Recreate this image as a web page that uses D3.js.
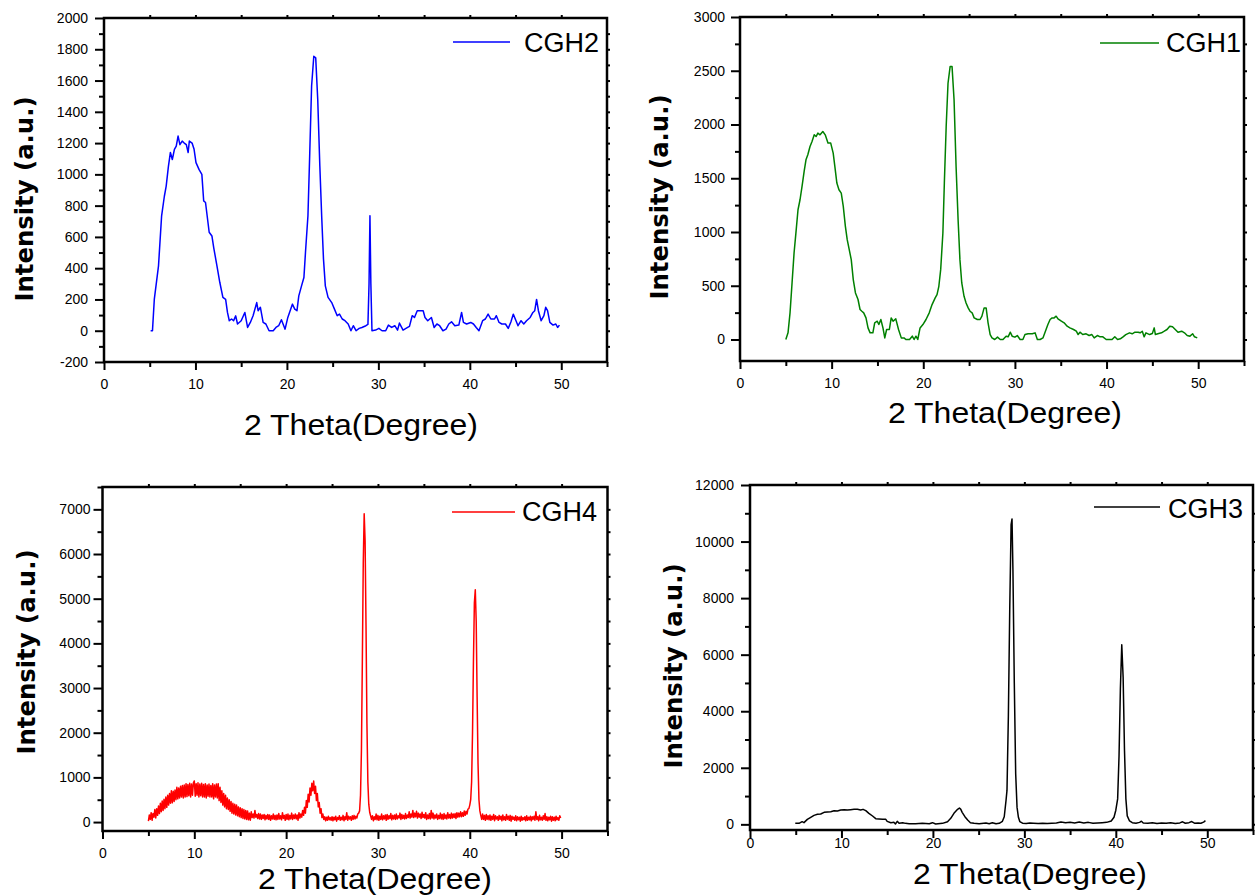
<!doctype html>
<html>
<head>
<meta charset="utf-8">
<script src="https://cdnjs.cloudflare.com/ajax/libs/d3/7.8.5/d3.min.js"></script>
<style>
body { margin: 0; background: #fff; }
svg { display: block; }
.tick text { font-family: "Liberation Sans", Arial, sans-serif; font-size: 14px; fill: #000; }
.tick line { stroke: #000; stroke-width: 2; }
</style>
</head>
<body>
<svg id="chart" width="1255" height="895"></svg>
<script>
// 2 theta (degree), intensity (a.u.)
var cgh2 = [
 [5.1,0],[5.3,0],[5.5,200],[5.96,415],[6.3,735],[6.6,860],[6.8,925],[7.04,1050],[7.26,1140],[7.47,1095],
 [7.7,1160],[7.9,1180],[8.1,1245],[8.3,1190],[8.55,1213],[8.77,1200],[9.0,1190],[9.2,1140],[9.33,1213],[9.63,1200],
 [9.85,1160],[10.06,1075],[10.4,1030],[10.7,1000],[10.9,830],[11.1,820],[11.5,630],[11.8,606],[12.0,530],[12.35,415],
 [12.66,310],[13.0,213],[13.3,200],[13.5,117],[13.7,64],[13.95,75],[14.17,64],[14.4,95],[14.6,43],[15.0,64],
 [15.4,117],[15.7,21],[16.0,53],[16.3,96],[16.7,180],[16.85,128],[17.1,150],[17.4,53],[17.7,43],[18.05,0],
 [18.5,0],[18.8,21],[19.1,32],[19.4,70],[19.8,10],[20.1,85],[20.6,170],[20.86,138],[21.1,128],[21.3,223],
 [21.6,287],[21.86,340],[22.03,500],[22.3,735],[22.5,1140],[22.7,1565],[22.94,1755],[23.15,1745],[23.37,1480],[23.6,1053],
 [23.8,735],[24.0,458],[24.2,287],[24.5,213],[24.9,180],[25.2,138],[25.5,96],[25.75,106],[26.05,75],[26.35,64],
 [26.7,43],[27.0,0],[27.26,32],[27.56,0],[27.9,15],[28.2,21],[28.64,32],[28.86,40],[28.98,300],[29.08,735],
 [29.18,300],[29.3,0],[29.7,4],[30.06,15],[30.4,0],[30.8,0],[31.1,36],[31.45,21],[31.8,32],[32.1,4],
 [32.3,49],[32.7,4],[33.2,21],[33.4,28],[33.7,96],[33.95,85],[34.25,128],[34.56,128],[34.9,128],[35.1,85],
 [35.4,64],[35.8,85],[36.1,21],[36.4,43],[36.7,32],[37.06,0],[37.4,10],[37.7,43],[38.0,57],[38.36,32],
 [38.8,36],[39.1,117],[39.3,53],[39.65,43],[40.1,53],[40.4,43],[40.7,21],[41.0,0],[41.4,64],[41.7,75],
 [42.0,106],[42.3,75],[42.7,75],[42.9,96],[43.2,53],[43.5,43],[43.9,43],[44.2,15],[44.5,57],[44.75,106],
 [45.05,64],[45.27,32],[45.6,64],[45.9,43],[46.2,64],[46.6,85],[46.9,117],[47.1,128],[47.3,200],[47.5,128],
 [47.8,64],[48.1,96],[48.3,150],[48.5,128],[48.75,53],[49.1,36],[49.4,43],[49.6,21],[49.8,36]
];

var cgh1 = [
 [5.0,0],[5.24,62],[5.46,248],[5.68,526],[5.9,805],[6.1,990],[6.33,1207],[6.55,1300],[6.77,1424],[7.0,1563],
 [7.2,1672],[7.4,1718],[7.64,1795],[7.86,1842],[8.1,1904],[8.3,1888],[8.5,1920],[8.73,1904],[9.04,1935],[9.3,1904],
 [9.6,1827],[9.9,1827],[10.17,1734],[10.35,1610],[10.57,1455],[10.8,1393],[11.05,1362],[11.27,1238],[11.5,1053],[11.7,929],
 [11.92,836],[12.14,743],[12.36,557],[12.6,433],[12.88,372],[13.1,279],[13.3,263],[13.5,248],[13.75,201],[13.97,108],
 [14.2,62],[14.5,62],[14.7,155],[14.98,170],[15.15,139],[15.37,186],[15.6,108],[15.8,15],[16.0,93],[16.3,93],
 [16.5,201],[16.7,170],[17.0,192],[17.3,93],[17.6,15],[17.9,15],[18.1,0],[18.5,0],[18.8,31],[19.0,0],
 [19.2,31],[19.4,0],[19.65,108],[19.96,139],[20.3,186],[20.65,248],[20.96,325],[21.3,387],[21.5,418],[21.7,495],
 [21.9,650],[22.14,990],[22.3,1455],[22.5,1981],[22.7,2384],[22.93,2539],[23.14,2539],[23.36,2229],[23.58,1610],[23.8,1114],
 [24.0,743],[24.2,526],[24.45,402],[24.67,340],[24.9,294],[25.1,263],[25.33,248],[25.55,201],[25.9,186],[26.2,186],
 [26.4,217],[26.64,294],[26.86,294],[27.07,155],[27.3,46],[27.5,15],[27.8,0],[28.1,22],[28.4,0],[28.7,0],
 [29.04,31],[29.26,25],[29.5,68],[29.7,31],[30.0,22],[30.26,37],[30.57,0],[30.87,0],[31.1,46],[31.44,53],
 [31.9,53],[32.2,62],[32.45,0],[32.75,0],[33.06,15],[33.4,93],[33.6,139],[33.84,186],[34.06,201],[34.28,201],
 [34.5,217],[34.7,192],[35.07,170],[35.37,155],[35.7,124],[36.0,108],[36.4,93],[36.7,77],[36.9,46],[37.1,68],
 [37.4,46],[37.77,53],[38.1,37],[38.4,46],[38.65,15],[39.0,37],[39.3,25],[39.6,25],[39.96,0],[40.3,0],
 [40.6,0],[40.9,25],[41.2,0],[41.5,6],[41.8,25],[42.1,46],[42.5,62],[42.8,53],[43.1,68],[43.45,68],
 [43.67,62],[43.9,77],[44.1,25],[44.3,62],[44.7,46],[45.0,56],[45.2,108],[45.33,46],[45.6,53],[46.0,62],
 [46.3,77],[46.6,93],[46.9,124],[47.2,118],[47.5,93],[47.8,68],[48.2,77],[48.5,62],[48.8,37],[49.1,31],
 [49.4,53],[49.6,25],[49.9,15]
];

// CGH4 is a noisy scan: one reading every 0.1 degree from 5.0
var cgh4Start = 5.0, cgh4Step = 0.1;
var cgh4 = [
 20,160,60,210,40,190,110,280,90,300,
 150,360,190,420,230,470,260,510,300,560,
 330,600,380,640,420,700,430,690,460,720,
 500,780,520,760,540,800,560,820,540,830,
 560,860,570,840,590,870,560,850,600,880,
 920,580,860,600,880,560,850,590,870,560,
 840,560,860,540,830,580,850,560,820,560,
 860,520,830,560,850,540,860,480,780,440,
 700,380,640,340,600,300,540,280,500,240,
 460,200,420,180,400,160,380,140,340,120,
 320,100,300,80,280,70,260,60,250,50,
 200,40,230,100,180,90,260,110,170,80,
 190,70,180,60,160,80,170,50,150,70,
 170,60,160,40,140,70,180,60,150,50,
 160,60,190,70,140,50,210,80,150,40,
 170,60,180,50,150,70,200,60,160,80,
 180,70,160,40,210,90,180,110,260,150,
 330,200,480,330,620,450,760,600,870,700,
 920,640,800,480,640,340,440,200,300,100,
 180,60,120,30,110,40,130,50,100,40,
 120,30,110,50,130,20,100,60,140,40,
 110,50,150,30,120,60,210,40,130,70,
 120,40,140,60,150,70,130,90,180,200,
 250,600,1600,3600,5800,6900,6300,4400,2200,900,
 400,220,140,60,140,30,120,60,180,50,
 150,40,130,60,180,50,140,70,160,40,
 170,60,140,80,190,50,150,70,160,60,
 180,70,140,90,200,60,170,80,150,70,
 190,80,160,100,230,90,180,110,260,100,
 200,120,240,90,200,110,180,80,220,100,
 170,90,210,60,160,80,190,70,260,90,
 200,70,160,90,180,60,150,80,200,70,
 170,60,190,80,160,70,210,90,170,80,
 200,90,180,100,190,80,210,110,200,120,
 230,120,210,130,250,150,240,180,290,300,
 380,500,900,2000,3600,4900,5200,4500,2800,1300,
 500,250,150,60,180,60,150,40,170,60,
 140,50,160,40,130,60,170,30,140,70,
 120,40,150,60,130,30,160,50,120,40,
 170,60,130,40,150,20,130,60,110,40,
 140,30,120,50,110,20,130,40,100,50,
 120,30,140,40,110,50,130,30,120,60,
 130,40,230,60,120,30,150,50,110,40,
 140,60,190,40,120,30,110,50,130,20,
 120,40,110,30,130,50,100,40,140,90
];

var cgh3 = [
 [4.95,35],[5.36,35],[5.7,94],[5.9,60],[6.27,177],[6.64,248],[7.0,318],[7.37,354],[7.73,365],[8.1,425],
 [8.46,436],[8.83,448],[9.19,483],[9.56,472],[9.92,507],[10.29,519],[10.65,507],[11.0,519],[11.38,530],[11.75,530],
 [12.1,507],[12.36,530],[12.66,483],[13.0,390],[13.4,295],[13.75,200],[14.1,189],[14.5,177],[14.85,177],[15.0,106],
 [15.4,59],[15.75,70],[15.9,12],[16.1,106],[16.3,35],[16.7,59],[17.0,35],[17.4,24],[18.1,24],[18.85,35],
 [19.6,24],[19.95,59],[20.3,12],[21.05,35],[21.6,94],[21.95,212],[22.3,390],[22.7,530],[22.9,578],[23.05,530],
 [23.2,424],[23.5,271],[23.8,153],[24.1,59],[24.5,35],[25.05,24],[25.8,47],[26.15,24],[26.5,59],[26.9,24],
 [27.25,35],[27.6,106],[27.8,270],[28.0,860],[28.1,1200],[28.25,3800],[28.4,7600],[28.55,10600],[28.65,10800],[28.75,9000],
 [28.9,5000],[29.05,1800],[29.2,600],[29.35,250],[29.5,100],[29.8,40],[30.2,30],[30.6,50],[31.0,40],[31.5,30],
 [32.0,40],[32.5,30],[33.0,40],[33.5,50],[34.0,80],[34.5,60],[35.0,70],[35.5,50],[36.0,80],[36.5,50],
 [37.0,70],[37.5,40],[38.0,50],[38.5,60],[39.0,70],[39.5,120],[39.8,250],[40.0,500],[40.2,900],[40.35,2400],
 [40.5,4800],[40.65,6350],[40.8,5200],[40.95,2600],[41.1,900],[41.25,300],[41.5,120],[41.8,60],[42.2,40],[42.6,70],
 [42.8,110],[43.0,50],[43.5,40],[44.0,60],[44.5,30],[45.0,50],[45.5,40],[46.0,60],[46.5,30],[47.0,50],
 [47.3,90],[47.6,40],[48.0,60],[48.3,100],[48.6,40],[49.0,50],[49.3,40],[49.6,80],[49.8,130]
];

var xDomain = [0, 55];
var xLabels = [0, 10, 20, 30, 40, 50];

var panels = [
  { name: "CGH2", color: "#0000ff", data: cgh2,
    left: 104, right: 607, top: 18, bottom: 362,
    yDomain: [-200, 2000], yLabels: d3.range(-200, 2001, 200), yMinor: d3.range(-100, 2000, 200),
    xPad: 9, yPad: 7, ytx: 24, yty: 199, xtx: 361, xty: 435,
    leg: { x1: 453, x2: 510, y: 42, tx: 524, ty: 52 } },
  { name: "CGH1", color: "#008000", data: cgh1,
    left: 740, right: 1244, top: 17, bottom: 361,
    yDomain: [-200, 3000], yLabels: d3.range(0, 3001, 500), yMinor: d3.range(250, 3000, 500),
    xPad: 9, yPad: 6, ytx: 659, yty: 197, xtx: 1005, xty: 423,
    leg: { x1: 1100, x2: 1159, y: 43, tx: 1166, ty: 52 } },
  { name: "CGH4", color: "#ff0000", data: cgh4.map(function(v, i) { return [cgh4Start + i * cgh4Step, v]; }),
    left: 102.5, right: 607.5, top: 487, bottom: 831,
    yDomain: [-200, 7500], yLabels: d3.range(0, 7001, 1000), yMinor: d3.range(500, 7501, 1000),
    xPad: 9, yPad: 3, ytx: 26, yty: 652, xtx: 375, xty: 889,
    leg: { x1: 452, x2: 515, y: 512, tx: 522, ty: 521 } },
  { name: "CGH3", color: "#000000", data: cgh3,
    left: 750, right: 1253, top: 485, bottom: 830,
    yDomain: [-200, 12000], yLabels: d3.range(0, 12001, 2000), yMinor: d3.range(1000, 12000, 2000),
    xPad: 0, yPad: 7, ytx: 673, yty: 666, xtx: 1030, xty: 884,
    leg: { x1: 1094, x2: 1160, y: 507, tx: 1168, ty: 518 } }
];

var svg = d3.select("#chart");
var plain = function(d) { return String(d); };

panels.forEach(function(p) {
  var x = d3.scaleLinear().domain(xDomain).range([p.left, p.right]);
  var y = d3.scaleLinear().domain(p.yDomain).range([p.bottom, p.top]);
  var g = svg.append("g");

  var line = d3.line().x(function(d) { return x(d[0]); }).y(function(d) { return y(d[1]); });
  g.append("path").datum(p.data)
    .attr("d", line).attr("fill", "none")
    .attr("stroke", p.color).attr("stroke-width", 1.5).attr("stroke-linejoin", "round");

  // bottom axis, major + minor
  g.append("g").attr("transform", "translate(0," + p.bottom + ")")
    .call(d3.axisBottom(x).tickValues(xLabels).tickSize(8).tickPadding(p.xPad).tickFormat(plain));
  g.append("g").attr("transform", "translate(0," + p.bottom + ")")
    .call(d3.axisBottom(x).tickValues(d3.range(5, 56, 10)).tickSize(5).tickFormat(""));
  // left axis
  g.append("g").attr("transform", "translate(" + p.left + ",0)")
    .call(d3.axisLeft(y).tickValues(p.yLabels).tickSize(9).tickPadding(p.yPad).tickFormat(plain));
  g.append("g").attr("transform", "translate(" + p.left + ",0)")
    .call(d3.axisLeft(y).tickValues(p.yMinor).tickSize(5).tickFormat(""));
  // little ticks on top and right
  g.append("g").attr("transform", "translate(0," + p.top + ")")
    .call(d3.axisTop(x).tickValues(d3.range(5, 55, 5)).tickSize(3).tickFormat(""));
  g.append("g").attr("transform", "translate(" + p.right + ",0)")
    .call(d3.axisRight(y).tickValues(p.yLabels.concat(p.yMinor).filter(function(v) { return v > p.yDomain[0] && v < p.yDomain[1]; })).tickSize(3).tickFormat(""));
  g.selectAll(".domain").remove();

  g.append("rect")
    .attr("x", p.left).attr("y", p.top)
    .attr("width", p.right - p.left).attr("height", p.bottom - p.top)
    .attr("fill", "none").attr("stroke", "#000").attr("stroke-width", 2.5);

  // legend
  g.append("line")
    .attr("x1", p.leg.x1).attr("x2", p.leg.x2).attr("y1", p.leg.y).attr("y2", p.leg.y)
    .attr("stroke", p.color).attr("stroke-width", 1.5);
  g.append("text")
    .attr("x", p.leg.tx).attr("y", p.leg.ty)
    .attr("font-family", "Liberation Sans, Arial, sans-serif").attr("font-size", 27)
    .attr("fill", "#000").text(p.name);

  // titles
  g.append("text")
    .attr("transform", "translate(" + (p.ytx + 9) + "," + p.yty + ") rotate(-90)")
    .attr("text-anchor", "middle")
    .attr("font-family", "DejaVu Sans, Verdana, sans-serif").attr("font-weight", "bold").attr("font-size", 25)
    .attr("textLength", 205).attr("lengthAdjust", "spacingAndGlyphs")
    .attr("fill", "#000").text("Intensity (a.u.)");
  g.append("text")
    .attr("x", p.xtx).attr("y", p.xty)
    .attr("text-anchor", "middle")
    .attr("font-family", "Liberation Sans, Arial, sans-serif").attr("font-size", 30)
    .attr("textLength", 234).attr("lengthAdjust", "spacingAndGlyphs")
    .attr("fill", "#000").text("2 Theta(Degree)");
});
</script>
</body>
</html>
